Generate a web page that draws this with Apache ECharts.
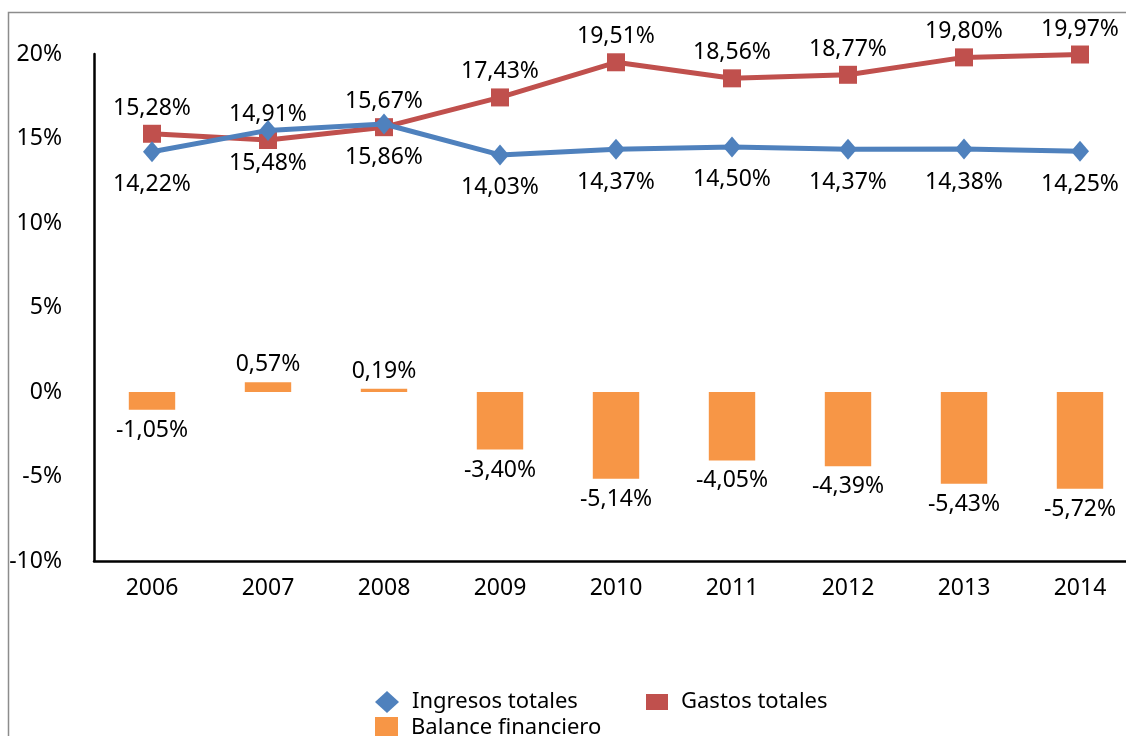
<!DOCTYPE html>
<html>
<head>
<meta charset="utf-8">
<script src="https://cdn.jsdelivr.net/npm/echarts@6/dist/echarts.min.js"></script>
<style>html,body{margin:0;padding:0;background:#fff;}#c{width:1126px;height:736px;}</style>
</head>
<body>
<div id="c"></div>
<script>
const years = ['2006','2007','2008','2009','2010','2011','2012','2013','2014'];
const ingresos = [14.22, 15.48, 15.86, 14.03, 14.37, 14.50, 14.37, 14.38, 14.25];
const gastos = [15.28, 14.91, 15.67, 17.43, 19.51, 18.56, 18.77, 19.80, 19.97];
const balance = [-1.05, 0.57, 0.19, -3.40, -5.14, -4.05, -4.39, -5.43, -5.72];
const yTicks = [-10, -5, 0, 5, 10, 15, 20];

const FONT = 'Noto Sans';
const FS = 23;
const fmt = v => v.toFixed(2).replace('.', ',') + '%';
const chart = echarts.init(document.getElementById('c'), null, {renderer: 'canvas'});

const legendText = {fontFamily: FONT, fontSize: 22, color: '#000', padding: [0, 0, 0, 8]};
chart.setOption({
  animation: false,
  backgroundColor: '#fff',
  textStyle: {fontFamily: FONT},
  graphic: [{
    type: 'rect', shape: {x: 8.5, y: 12.5, width: 1300, height: 900},
    style: {fill: 'none', stroke: '#8c8c8c', lineWidth: 1.5}, silent: true, z: -1
  }],
  grid: {left: 94, top: 54, height: 507, width: 1044, containLabel: false, outerBoundsMode: 'none'},
  legend: [
    {data: [{name: 'Ingresos totales', icon: 'diamond'}], left: 370, top: 686, itemWidth: 24, itemHeight: 22, textStyle: legendText},
    {data: [{name: 'Gastos totales', icon: 'rect'}], left: 641, top: 686, itemWidth: 22, itemHeight: 16, textStyle: legendText},
    {data: [{name: 'Balance financiero', icon: 'rect'}], left: 370, top: 712, itemWidth: 23, itemHeight: 22, textStyle: legendText}
  ],
  xAxis: {
    type: 'category', data: years, boundaryGap: true,
    axisLine: {onZero: false, lineStyle: {color: '#000', width: 2.5}},
    axisTick: {show: false},
    axisLabel: {color: '#000', fontSize: FS, fontFamily: FONT, margin: 16}
  },
  yAxis: {
    type: 'value', min: yTicks[0], max: yTicks[yTicks.length - 1], interval: 5,
    axisLine: {show: true, lineStyle: {color: '#000', width: 2.5}},
    axisTick: {show: false},
    splitLine: {show: false},
    axisLabel: {color: '#000', fontSize: FS, fontFamily: FONT, margin: 32, formatter: v => v + '%'}
  },
  series: [
    {
      name: 'Balance financiero', type: 'bar', barWidth: '40%',
      itemStyle: {color: '#F79646'},
      data: balance.map(v => ({value: v, label: {position: v < 0 ? 'bottom' : 'top', distance: v < 0 ? 9 : 6}})),
      label: {show: true, color: '#000', fontSize: FS, fontFamily: FONT, formatter: p => fmt(p.value)},
      z: 1
    },
    {
      name: 'Ingresos totales', type: 'line', data: ingresos,
      symbol: 'diamond', symbolSize: [18, 21],
      lineStyle: {color: '#4F81BD', width: 5},
      itemStyle: {color: '#4F81BD'},
      label: {show: true, position: 'bottom', distance: 11, color: '#000', fontSize: FS, fontFamily: FONT, formatter: p => fmt(p.value)},
      z: 3
    },
    {
      name: 'Gastos totales', type: 'line', data: gastos,
      symbol: 'rect', symbolSize: 18,
      lineStyle: {color: '#C0504D', width: 5},
      itemStyle: {color: '#C0504D'},
      label: {show: true, position: 'top', distance: 5, color: '#000', fontSize: FS, fontFamily: FONT, formatter: p => fmt(p.value)},
      z: 2
    }
  ]
});
</script>
</body>
</html>
